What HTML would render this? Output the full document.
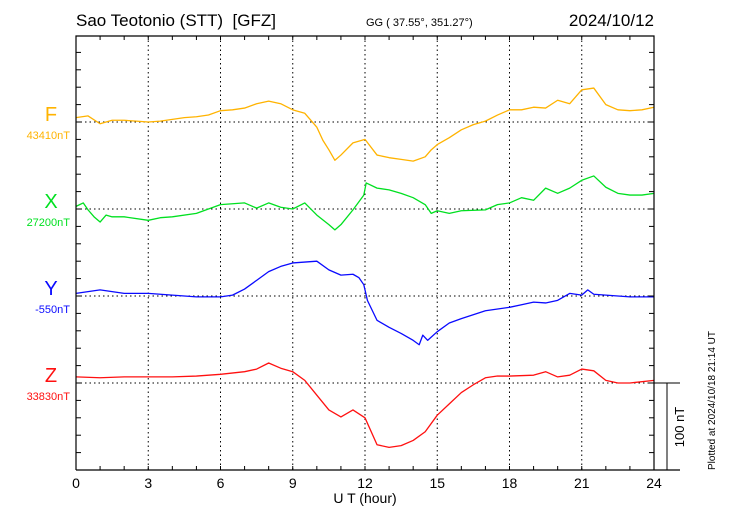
<!DOCTYPE html>
<html><head><meta charset="utf-8"><style>
body{margin:0;background:#fff}
svg{display:block;font-family:"Liberation Sans",sans-serif}
</style></head><body>
<svg id="c" width="730" height="520" viewBox="0 0 730 520">
<text x="76" y="26" font-size="17">Sao Teotonio (STT)&#160; [GFZ]</text>
<text x="366" y="26" font-size="11">GG ( 37.55°, 351.27°)</text>
<text x="654" y="26" font-size="17" text-anchor="end">2024/10/12</text>
<text x="365" y="503" font-size="14" text-anchor="middle">U T (hour)</text>
<text transform="translate(715,470) rotate(-90)" font-size="10">Plotted at 2024/10/18 21:14 UT</text>
<text transform="translate(684,427) rotate(-90)" font-size="13" text-anchor="middle">100 nT</text>
<g id="grid"></g><g id="series"></g><g id="axes"></g>
</svg>
<script>
const hoursF=[0,0.5,1,1.5,2,2.5,3,3.5,4,4.5,5,5.5,6,6.5,7,7.5,8,8.5,9,9.5,10,10.25,10.5,10.75,11,11.5,12,12.5,13,13.5,14,14.5,14.75,15,15.5,16,16.5,17,17.5,18,18.5,19,19.5,20,20.5,21,21.5,22,22.5,23,23.5,24];
const valsF=[5,7,-2,2,2,1,0,1,3,5,6,8,13,14,16,21,24,21,14,10,-6,-21,-32,-44,-38,-24,-20,-38,-41,-43,-45,-40,-32,-26,-18,-9,-3,1,8,14,14,17,16,25,21,37,39,20,14,13,14,17];
const hoursX=[0,0.3,0.5,0.75,1,1.25,1.5,2,3,3.5,4,5,6,7,7.5,8,8.5,9,9.5,10,10.5,10.75,11,11.5,11.95,12.05,12.5,13,13.5,14,14.5,14.75,15,15.5,16,17,17.5,18,18.5,19,19.5,20,20.5,21,21.5,22,22.5,23,23.5,24];
const valsX=[3,7,-1,-9,-15,-7,-9,-9,-13,-10,-9,-5,5,7,1,7,2,0,7,-7,-18,-24,-18,-1,16,30,24,22,18,13,5,-5,-2,-5,-2,-1,5,7,13,10,24,18,24,33,38,25,18,16,16,18];
const hoursY=[0,1,1.5,2,3,4,5,6,6.5,7,7.5,8,8.5,9,9.5,10,10.5,11,11.5,11.75,11.95,12.1,12.5,13,13.5,14,14.25,14.4,14.6,15,15.5,16,17,18,18.5,19,19.5,20,20.5,21,21.25,21.5,22,23,24];
const valsY=[3,7,5,3,3,1,-1,-1,1,8,18,28,34,38,39,40,30,24,25,21,13,-5,-28,-36,-43,-51,-56,-45,-51,-41,-31,-26,-17,-13,-10,-7,-8,-5,3,1,7,2,1,-1,-1];
const hoursZ=[0,1,2,3,4,5,6,7,7.5,8,8.5,9,9.5,10,10.5,11,11.5,12,12.5,13,13.5,14,14.5,15,15.5,16,16.5,17,17.5,18,19,19.5,20,20.5,21,21.5,22,22.5,23,24];
const valsZ=[7,6,7,7,7,8,10,13,16,23,17,13,3,-14,-31,-39,-31,-40,-71,-74,-72,-66,-56,-37,-24,-11,-2,6,8,8,9,13,7,9,16,14,3,0,0,3];
const xTickLabels=["0","3","6","9","12","15","18","21","24"];
const L=76,R=654,T=36,B=470,PXNT=0.87;
const baselines=[122,209,296,383];
const xs=h=>L+(R-L)*h/24;
const ys=(v,b)=>b-v*PXNT;
const NS="http://www.w3.org/2000/svg";
function mk(tag,parent,attrs){const e=document.createElementNS(NS,tag);for(const k in attrs)e.setAttribute(k,attrs[k]);parent.appendChild(e);return e;}
const grid=document.getElementById('grid'),axes=document.getElementById('axes'),ser=document.getElementById('series');
for(let h=3;h<24;h+=3){const l=mk('line',grid,{x1:xs(h),x2:xs(h),y1:T,y2:B,stroke:'#000','stroke-width':1,'stroke-dasharray':'1.5,3'});

}
baselines.forEach(b=>{const l=mk('line',grid,{x1:L,x2:R,y1:b,y2:b,stroke:'#000','stroke-width':1,'stroke-dasharray':'1.5,3'});

});
const frame=mk('path',axes,{d:`M${L},${B}V${T}H${R}V${B}`,fill:'none',stroke:'#000','stroke-width':1.2});


const xAxis=mk('line',axes,{x1:L,x2:680,y1:B,y2:B,stroke:'#000','stroke-width':1.2});


for(let h=0;h<=24;h++){mk('line',axes,{x1:xs(h),x2:xs(h),y1:B,y2:B-4,stroke:'#000'});mk('line',axes,{x1:xs(h),x2:xs(h),y1:T,y2:T+4,stroke:'#000'});}
for(let k=1;k<25;k++){const y=B-k*17.4;if(y<=T+2)break;mk('line',axes,{x1:L,x2:L+5,y1:y,y2:y,stroke:'#000'});mk('line',axes,{x1:R,x2:R-5,y1:y,y2:y,stroke:'#000'});}
xTickLabels.forEach((t,i)=>{const e=mk('text',axes,{x:xs(i*3),y:488,'font-size':14,'text-anchor':'middle'});e.textContent=t;

});
const sb1=mk('line',axes,{x1:R,x2:680,y1:383,y2:383,stroke:'#000'});


const sb2=mk('line',axes,{x1:667,x2:667,y1:383,y2:B,stroke:'#000'});


const comps=[["F","43410nT","#ffb300",hoursF,valsF],["X","27200nT","#00e020",hoursX,valsX],["Y","-550nT","#0a0aff",hoursY,valsY],["Z","33830nT","#ff1010",hoursZ,valsZ]];
comps.forEach((c,i)=>{const b=baselines[i];
const p=mk('polyline',ser,{points:c[3].map((h,j)=>xs(h)+','+ys(c[4][j],b)).join(' '),fill:'none',stroke:c[2],'stroke-width':1.3,'stroke-linejoin':'round'});


const t=mk('text',axes,{x:51,y:b-1,'font-size':20,'text-anchor':'middle',fill:c[2]});t.textContent=c[0];


const s=mk('text',axes,{x:70,y:b+17,'font-size':11,'text-anchor':'end',fill:c[2]});s.textContent=c[1];

});
</script>
</body></html>
